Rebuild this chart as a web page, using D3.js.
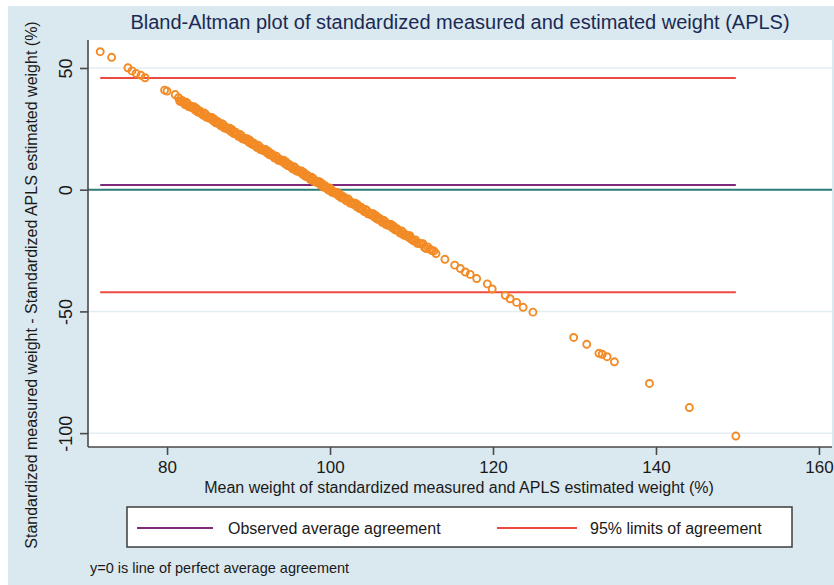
<!DOCTYPE html>
<html>
<head>
<meta charset="utf-8">
<script src="https://cdn.jsdelivr.net/npm/d3@7/dist/d3.min.js"></script>
<style>
  html, body { margin: 0; padding: 0; background: #ffffff; }
  svg { display: block; font-family: "Liberation Sans", Arial, Helvetica, sans-serif; }
</style>
</head>
<body>
<svg id="chart" width="834" height="585"></svg>
<script>
// Mean of standardized measured and APLS-estimated weight (%)
const meanWeight = [
  71.8, 73.2, 75.2, 75.7, 76.2, 76.8, 77.3, 79.7, 80.0, 81.0,
  81.4, 81.7, 82.0, 82.2, 82.5, 82.8, 83.0, 83.3, 83.6, 83.9,
  84.1, 84.4, 84.7, 85.0, 85.2, 85.5, 85.8, 86.1, 86.3, 86.6,
  86.9, 87.2, 87.4, 87.7, 88.0, 88.3, 88.5, 88.8, 89.1, 89.4,
  89.6, 89.9, 90.2, 90.5, 90.7, 91.0, 91.3, 91.6, 91.8, 92.1,
  92.4, 92.7, 92.9, 93.2, 93.5, 93.8, 94.0, 94.3, 94.6, 94.9,
  95.1, 95.4, 95.7, 96.0, 96.2, 96.5, 96.8, 97.1, 97.3, 97.6,
  97.9, 98.2, 98.4, 98.7, 99.0, 99.3, 99.5, 99.8, 100.1, 100.4,
  100.6, 100.9, 101.2, 101.5, 101.7, 102.0, 102.3, 102.6, 102.8, 103.1,
  103.4, 103.7, 103.9, 104.2, 104.5, 104.8, 105.0, 105.3, 105.6, 105.9,
  106.1, 106.4, 106.7, 107.0, 107.2, 107.5, 107.8, 108.1, 108.3, 108.6,
  108.9, 109.2, 109.5, 109.8, 110.0, 110.3, 110.7, 111.2, 111.6, 112.0,
  112.5, 113.0, 114.1, 115.3, 116.0, 116.6, 117.2, 118.0, 119.3, 119.9,
  121.5, 122.1, 122.9, 123.7, 124.9, 129.9, 131.5, 133.0, 133.4, 134.0,
  134.9, 139.2, 144.1, 149.8,
  81.55, 81.85, 82.1, 82.35, 82.65, 82.9, 83.15, 83.45, 83.75, 84.0,
  84.25, 84.55, 84.85, 85.1, 85.35, 85.65, 85.95, 86.2, 86.45, 86.75,
  87.05, 87.3, 87.55, 87.85, 88.15, 88.4, 88.65, 88.95, 89.25, 89.5,
  89.75, 90.05, 90.35, 90.6, 90.85, 91.15, 91.45, 91.7, 91.95, 92.25,
  92.55, 92.8, 93.05, 93.35, 93.65, 93.9, 94.15, 94.45, 94.75, 95.0,
  95.25, 95.55, 95.85, 96.1, 96.35, 96.65, 96.95, 97.2, 97.45, 97.75,
  98.05, 98.3, 98.55, 98.85, 99.15, 99.4, 99.65, 99.95, 100.25, 100.5,
  100.75, 101.05, 101.35, 101.6, 101.85, 102.15, 102.45, 102.7, 102.95, 103.25,
  103.55, 103.8, 104.05, 104.35, 104.65, 104.9, 105.15, 105.45, 105.75, 106.0,
  106.25, 106.55, 106.85, 107.1, 107.35, 107.65, 107.95, 108.2, 108.45, 108.75,
  109.05, 109.35, 109.65, 109.9, 110.15, 110.5, 110.95, 111.4, 111.8, 112.25,
  112.75
];

// Standardized measured weight minus standardized APLS estimated weight (%)
const weightDiff = [
  56.7, 54.4, 50.1, 48.8, 47.8, 47.0, 46.0, 40.9, 40.5, 39.1,
  37.8, 36.2, 36.2, 35.0, 35.5, 34.4, 33.7, 34.1, 33.4, 31.8,
  32.0, 30.6, 31.1, 30.0, 29.3, 29.7, 29.0, 27.4, 27.6, 26.2,
  26.7, 25.6, 24.9, 25.3, 24.6, 23.0, 23.2, 21.8, 22.3, 21.2,
  20.5, 20.9, 20.2, 18.6, 18.8, 17.4, 17.9, 16.8, 16.1, 16.5,
  15.8, 14.2, 14.4, 13.0, 13.5, 12.4, 11.7, 12.1, 11.4, 9.8,
  10.0, 8.6, 9.1, 8.0, 7.3, 7.7, 7.0, 5.4, 5.6, 4.2,
  4.7, 3.6, 2.9, 3.3, 2.6, 1.0, 1.2, -0.2, 0.3, -0.8,
  -1.5, -1.1, -1.8, -3.4, -3.2, -4.6, -4.1, -5.2, -5.9, -5.5,
  -6.2, -7.8, -7.6, -9.0, -8.5, -9.6, -10.3, -9.9, -10.6, -12.2,
  -12.0, -13.4, -12.9, -14.0, -14.7, -14.3, -15.0, -16.6, -16.4, -17.8,
  -17.3, -18.4, -19.3, -18.9, -20.2, -21.0, -22.0, -22.2, -23.8, -23.5,
  -25.0, -26.3, -28.6, -31.0, -32.4, -33.8, -34.8, -36.5, -38.7, -40.8,
  -43.4, -44.8, -46.3, -48.3, -50.3, -60.7, -63.5, -67.2, -67.6, -68.6,
  -70.7, -79.6, -89.5, -101.2,
  36.4, 36.7, 35.6, 35.9, 34.1, 34.3, 34.0, 32.7, 32.0, 32.4,
  31.3, 31.5, 29.7, 29.9, 29.6, 28.3, 27.6, 28.0, 26.9, 27.1,
  25.3, 25.5, 25.2, 23.9, 23.2, 23.6, 22.5, 22.7, 20.9, 21.1,
  20.8, 19.5, 18.8, 19.2, 18.1, 18.3, 16.5, 16.7, 16.4, 15.1,
  14.4, 14.8, 13.7, 13.9, 12.1, 12.3, 12.0, 10.7, 10.0, 10.4,
  9.3, 9.5, 7.7, 7.9, 7.6, 6.3, 5.6, 6.0, 4.9, 5.1,
  3.3, 3.5, 3.2, 1.9, 1.2, 1.6, 0.5, 0.7, -1.1, -0.9,
  -1.2, -2.5, -3.2, -2.8, -3.9, -3.7, -5.5, -5.3, -5.6, -6.9,
  -7.6, -7.2, -8.3, -8.1, -9.9, -9.7, -10.0, -11.3, -12.0, -11.6,
  -12.7, -12.5, -14.3, -14.1, -14.4, -15.7, -16.4, -16.0, -17.1, -16.9,
  -18.7, -18.6, -19.0, -20.2, -20.8, -20.6, -22.1, -22.2, -24.2, -24.4,
  -25.2
];

// Agreement statistics
const meanDifference = 1.9;
const limitsOfAgreement = [45.9, -42.1];
const perfectAgreement = 0;

const xTicks = [80, 100, 120, 140, 160];
const yTicks = [-100, -50, 0, 50];

const titleText = "Bland-Altman plot of standardized measured and estimated weight (APLS)";
const xTitle = "Mean weight of standardized measured and APLS estimated weight (%)";
const yTitle = "Standardized measured weight - Standardized APLS estimated weight (%)";
const legendLabels = ["Observed average agreement", "95% limits of agreement"];
const noteText = "y=0 is line of perfect average agreement";

const points = meanWeight.map((m, i) => ({ x: m, y: weightDiff[i] }));

const svg = d3.select("#chart");
const W = 834, H = 585;
const plot = { left: 88, right: 832, top: 40, bottom: 447 };

const colors = {
  bg: "#dae8ef",
  grid: "#e4edf1",
  axis: "#4a4a4a",
  point: "#f28b26",
  mean: "#7e2a7c",
  limit: "#ee4a42",
  zero: "#2c7d7c",
  title: "#1b2a55",
  text: "#1a1a1a"
};

// plain hyphen for negative tick labels
const fmt = d => String(d);

// graph region background
svg.append("rect").attr("x", 0).attr("y", 0).attr("width", W).attr("height", H).attr("fill", "#ffffff");
svg.append("rect").attr("x", 8).attr("y", 6).attr("width", W - 8).attr("height", H - 6).attr("fill", colors.bg);

const x = d3.scaleLinear().domain([70.3, 161.6]).range([plot.left, plot.right]);
const y = d3.scaleLinear().domain([-105.7, 61.5]).range([plot.bottom, plot.top]);

// plot region
svg.append("rect")
  .attr("x", plot.left).attr("y", plot.top)
  .attr("width", plot.right - plot.left).attr("height", plot.bottom - plot.top)
  .attr("fill", "#ffffff");

// horizontal grid lines
svg.append("g").selectAll("line").data(yTicks).join("line")
  .attr("x1", plot.left).attr("x2", plot.right)
  .attr("y1", d => y(d)).attr("y2", d => y(d))
  .attr("stroke", colors.grid).attr("stroke-width", 1.5);

const xr = d3.extent(meanWeight);

// limits of agreement
svg.append("g").selectAll("line").data(limitsOfAgreement).join("line")
  .attr("x1", x(xr[0])).attr("x2", x(xr[1]))
  .attr("y1", d => y(d)).attr("y2", d => y(d))
  .attr("stroke", colors.limit).attr("stroke-width", 2);

// observed mean difference
svg.append("line")
  .attr("x1", x(xr[0])).attr("x2", x(xr[1]))
  .attr("y1", y(meanDifference)).attr("y2", y(meanDifference))
  .attr("stroke", colors.mean).attr("stroke-width", 2);

// line of perfect agreement
svg.append("line")
  .attr("x1", plot.left).attr("x2", plot.right)
  .attr("y1", y(perfectAgreement)).attr("y2", y(perfectAgreement))
  .attr("stroke", colors.zero).attr("stroke-width", 2);

// data points
svg.append("g").selectAll("circle").data(points).join("circle")
  .attr("cx", d => x(d.x)).attr("cy", d => y(d.y))
  .attr("r", 3.5)
  .attr("fill", "none")
  .attr("stroke", colors.point)
  .attr("stroke-width", 1.9);

// x axis
const xAxis = svg.append("g")
  .attr("transform", `translate(0,${plot.bottom})`)
  .call(d3.axisBottom(x).tickValues(xTicks).tickSize(8).tickPadding(6).tickFormat(fmt));
xAxis.select(".domain").attr("stroke", colors.axis).attr("stroke-width", 1.6)
  .attr("d", `M${plot.left},0H${plot.right}`);
xAxis.selectAll(".tick line").attr("stroke", colors.axis).attr("stroke-width", 1.6);
xAxis.selectAll(".tick text").attr("fill", colors.text).attr("font-size", 17)
  .attr("font-family", "'Liberation Sans', Arial, sans-serif");

// y axis
const yAxis = svg.append("g")
  .attr("transform", `translate(${plot.left},0)`)
  .call(d3.axisLeft(y).tickValues(yTicks).tickSize(8).tickPadding(4).tickFormat(fmt));
yAxis.select(".domain").attr("stroke", colors.axis).attr("stroke-width", 1.6)
  .attr("d", `M0,${plot.top}V${plot.bottom}`);
yAxis.selectAll(".tick line").attr("stroke", colors.axis).attr("stroke-width", 1.6);
yAxis.selectAll(".tick text")
  .attr("fill", colors.text).attr("font-size", 18)
  .attr("font-family", "'Liberation Sans', Arial, sans-serif")
  .attr("x", null).attr("dy", null)
  .attr("text-anchor", "middle")
  .attr("transform", "translate(-16,0) rotate(-90)");

// title
svg.append("text")
  .attr("x", 460).attr("y", 29)
  .attr("text-anchor", "middle")
  .attr("font-size", 20)
  .attr("fill", colors.title)
  .text(titleText);

// axis titles
svg.append("text")
  .attr("x", 459).attr("y", 493)
  .attr("text-anchor", "middle")
  .attr("font-size", 16)
  .attr("fill", colors.text)
  .text(xTitle);

svg.append("text")
  .attr("transform", "translate(37,285) rotate(-90)")
  .attr("text-anchor", "middle")
  .attr("font-size", 16)
  .attr("fill", colors.text)
  .text(yTitle);

// legend
const legend = svg.append("g");
legend.append("rect")
  .attr("x", 127).attr("y", 507).attr("width", 665).attr("height", 40)
  .attr("fill", "#ffffff").attr("stroke", "#3c3c3c").attr("stroke-width", 1.5);
const legendItems = [
  { label: legendLabels[0], color: colors.mean, x1: 137, x2: 213, tx: 228 },
  { label: legendLabels[1], color: colors.limit, x1: 497, x2: 577, tx: 590 }
];
legendItems.forEach(it => {
  legend.append("line")
    .attr("x1", it.x1).attr("x2", it.x2).attr("y1", 528).attr("y2", 528)
    .attr("stroke", it.color).attr("stroke-width", 2);
  legend.append("text")
    .attr("x", it.tx).attr("y", 534)
    .attr("font-size", 16)
    .attr("fill", colors.text)
    .text(it.label);
});

// note
svg.append("text")
  .attr("x", 90).attr("y", 573)
  .attr("font-size", 14.5)
  .attr("fill", colors.text)
  .text(noteText);
</script>
</body>
</html>
